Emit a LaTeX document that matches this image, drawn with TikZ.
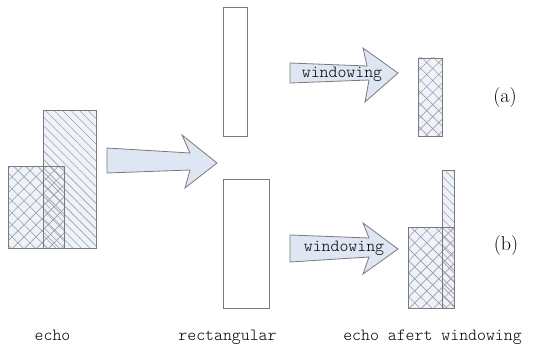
\documentclass[tikz,border=0pt]{standalone}
\usetikzlibrary{patterns.meta}
\definecolor{boxfill}{HTML}{EEF2FA}
\definecolor{arrowfill}{HTML}{DEE6F3}
\definecolor{edge}{HTML}{7A7A7A}
\definecolor{hatchc}{HTML}{A0A0A0}
\tikzset{
  outline/.style={draw=edge, line width=0.9pt},
  plainbox/.style={outline, fill=white},
  crosspat/.style={pattern={Hatch[angle=45,distance=8.5pt,line width=0.6pt]}, pattern color=hatchc},
  diagpat/.style={pattern={Lines[angle=-45,distance=6pt,line width=0.6pt]}, pattern color=hatchc},
  blockarrow/.style={draw=edge, line width=0.8pt, fill=arrowfill, line join=miter},
  monolabel/.style={font=\fontseries{l}\ttfamily\fontsize{17}{20}\selectfont, inner sep=0pt},
  partlabel/.style={font=\fontsize{20}{24}\selectfont, inner sep=0pt},
}
\begin{document}
\begin{tikzpicture}[x=1pt,y=-1pt]
\useasboundingbox (0,0) rectangle (533,345);

% ---- echo ----
\fill[boxfill] (43,110) rectangle (96,248);
\fill[boxfill] (8,166) rectangle (64,248);
\path[diagpat] (43,110) rectangle (96,248);
\path[crosspat] (8,166) rectangle (64,248);
\draw[outline] (43,110) rectangle (96,248);
\draw[outline] (8,166) rectangle (64,248);

% ---- big arrow ----
\draw[blockarrow] (107,148) -- (190,153) -- (182,135) -- (217,163) -- (185,188) -- (190,170) -- (107,173) -- cycle;

% ---- rectangular ----
\node[plainbox, minimum width=24pt, minimum height=129pt, inner sep=0pt] (recta) at (235,71.5) {};
\node[plainbox, minimum width=46pt, minimum height=129pt, inner sep=0pt] (rectb) at (246,243.5) {};

% ---- windowing arrows ----
\draw[blockarrow] (290,63) -- (367,66) -- (363,48) -- (398,73) -- (365,102) -- (369,80) -- (290,83) -- cycle;
\node[monolabel] (wa) at (342,74) {windowing};
\draw[blockarrow] (290,235) -- (369,238) -- (363,223) -- (398,249) -- (363,274) -- (369,257) -- (290,262) -- cycle;
\node[monolabel] (wb) at (344,248) {windowing};

% ---- result (a) ----
\fill[boxfill] (418,58) rectangle (442,136);
\path[crosspat] (418,58) rectangle (442,136);
\draw[outline] (418,58) rectangle (442,136);

% ---- result (b) ----
\fill[boxfill] (442,170) rectangle (454,308);
\fill[boxfill] (408,227) rectangle (454,308);
\path[diagpat] (442,170) rectangle (454,308);
\path[crosspat] (408,227) rectangle (454,308);
\draw[outline] (442,170) rectangle (454,308);
\draw[outline] (408,227) rectangle (454,308);

% ---- labels ----
\node[partlabel] (la) at (505,98) {(a)};
\node[partlabel] (lb) at (506,246) {(b)};
\node[monolabel, anchor=base] (techo) at (52.5,340) {echo};
\node[monolabel, anchor=base] (trect) at (227.5,340) {rectangular};
\node[monolabel, anchor=base] (tres) at (432.5,340) {echo afert windowing};
\end{tikzpicture}
\end{document}
